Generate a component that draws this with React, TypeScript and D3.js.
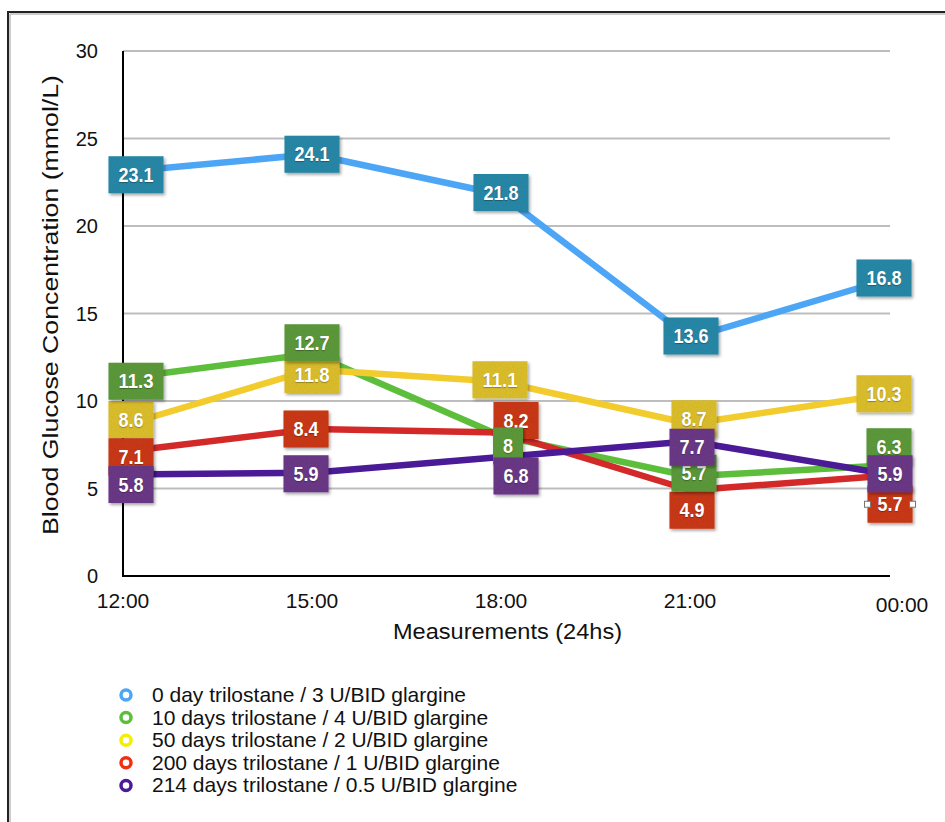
import * as d3 from "d3";

const W = 945, H = 822;
const X0 = 123, X1 = 879, AXIS_END = 890;
const Y_TOP = 51, Y_BOT = 576;

const times = ["12:00", "15:00", "18:00", "21:00", "00:00"];
const yTicks = [0, 5, 10, 15, 20, 25, 30];

const day0 = [23.1, 24.1, 21.8, 13.6, 16.8];
const day10 = [11.3, 12.7, 8, 5.7, 6.3];
const day50 = [8.6, 11.8, 11.1, 8.7, 10.3];
const day200 = [7.1, 8.4, 8.2, 4.9, 5.7];
const day214 = [5.8, 5.9, 6.8, 7.7, 5.9];

const seriesNames = [
  "0 day trilostane / 3 U/BID glargine",
  "10 days trilostane / 4 U/BID glargine",
  "50 days trilostane / 2 U/BID glargine",
  "200 days trilostane / 1 U/BID glargine",
  "214 days trilostane / 0.5 U/BID glargine",
];

// label box nudges (px) so the boxes don't sit on each other
const nudgeDx = [
  [13, 0, 0, 1, 5],
  [13, 0, 7, 4, 10],
  [8, 0, -1, 4, 5],
  [8, -6, 15, 2, 11],
  [8, -6, 15, 2, 11],
];
const nudgeDy = [
  [3, 0, -2, -2, -4],
  [3, -11, 10, -3, -19],
  [-6, 5, -2, -5, -2],
  [5, 0, -12, 20, 28],
  [10, 1, 19, 6, 1],
];

const lineColors = ["#4DA6F5", "#5DBE3C", "#F2CB2C", "#D32929", "#4B1A96"];
const boxColors = ["#2A8BAB", "#5E9C3C", "#E0C22D", "#CE3A1C", "#6D3A8A"];
const legendColors = ["#4DA6F5", "#5DBE3C", "#F5EE00", "#F03010", "#4B1A96"];

const allSeries = [day0, day10, day50, day200, day214];
// drawing order of label boxes: blue, yellow, red, green, purple
const boxOrder = [0, 2, 3, 1, 4];

const FONT = "'Liberation Sans', Arial, Helvetica, sans-serif";

function textW(s: string) {
  let w = 0;
  for (const c of s) w += c === "." ? 5 : 10;
  return w;
}

export default function App() {
  const x = d3.scalePoint<string>().domain(times).range([X0, X1]);
  const y = d3.scaleLinear().domain([0, 30]).range([Y_BOT, Y_TOP]);
  const line = d3
    .line<number>()
    .x((_, i) => x(times[i]) as number)
    .y((v) => y(v));

  return (
    <div style={{ position: "absolute", left: 0, top: 0 }}>
      <svg width={W} height={H} style={{ display: "block", background: "#fff", fontFamily: FONT }}>
        <defs>
          <filter id="tex" x="-10%" y="-10%" width="130%" height="140%">
            <feTurbulence type="fractalNoise" baseFrequency="1.2" numOctaves="2" seed="3" result="n" />
            <feColorMatrix in="n" type="matrix"
              values="0 0 0 0 0  0 0 0 0 0  0 0 0 0 0  0 0 0 0.18 0" result="dark" />
            <feComposite in="dark" in2="SourceGraphic" operator="in" result="noise" />
            <feMerge result="tx">
              <feMergeNode in="SourceGraphic" />
              <feMergeNode in="noise" />
            </feMerge>
            <feDropShadow dx="1.5" dy="2" stdDeviation="1.5" floodOpacity="0.35" />
          </filter>
        </defs>

        {/* frame */}
        <line x1={10} y1={14} x2={W} y2={14} stroke="#ccc" strokeWidth={2} />
        <line x1={10} y1={14} x2={10} y2={H} stroke="#ccc" strokeWidth={2} />
        <line x1={8} y1={12} x2={W} y2={12} stroke="#222" strokeWidth={2} />
        <line x1={8} y1={11} x2={8} y2={H} stroke="#222" strokeWidth={2} />

        {/* grid */}
        {yTicks.filter((t) => t > 0).map((t) => (
          <line key={t} x1={X0} x2={AXIS_END} y1={y(t)} y2={y(t)} stroke="#bdbdbd" strokeWidth={2} />
        ))}
        {yTicks.map((t) => (
          <text key={t} x={98} y={y(t) + 7} textAnchor="end" fontSize={20} fill="#111">{t}</text>
        ))}

        {/* axes */}
        <line x1={X0} x2={X0} y1={Y_TOP} y2={Y_BOT + 1} stroke="#000" strokeWidth={2} />
        <line x1={X0 - 1} x2={AXIS_END} y1={Y_BOT} y2={Y_BOT} stroke="#000" strokeWidth={2} />

        {times.map((t, i) => (
          <text key={t} x={i === times.length - 1 ? 902 : (x(t) as number)} y={i === times.length - 1 ? 612 : 608}
            textAnchor="middle" fontSize={21} fill="#111">{t}</text>
        ))}

        <text x={393} y={639} fontSize={22} fill="#111" textLength={229} lengthAdjust="spacingAndGlyphs">
          Measurements (24hs)
        </text>
        <text transform={`translate(58,535) rotate(-90)`} fontSize={22} fill="#111" textLength={460} lengthAdjust="spacingAndGlyphs">
          Blood Glucose Concentration (mmol/L)
        </text>

        {/* lines */}
        {allSeries.map((s, k) => (
          <path key={k} d={line(s) ?? ""} fill="none" stroke={lineColors[k]} strokeWidth={6.5} strokeLinejoin="round" />
        ))}

        {/* value boxes */}
        {boxOrder.map((k) => (
          <g key={k}>
            {allSeries[k].map((v, i) => {
              const label = String(v);
              const tw = textW(label);
              const bw = tw + 20;
              const bh = 37;
              const cx = (x(times[i]) as number) + nudgeDx[k][i];
              const cy = y(v) + nudgeDy[k][i];
              return (
                <g key={i}>
                  <rect x={cx - bw / 2} y={cy - bh / 2} width={bw} height={bh} fill={boxColors[k]} filter="url(#tex)" />
                  <text x={cx - tw / 2} y={cy} dy="0.36em" fontSize={19.5} fontWeight="bold" fill="#fff"
                    textLength={tw} lengthAdjust="spacingAndGlyphs"
                    style={{ textShadow: "0 1px 1px rgba(0,0,0,0.3)" }}>{label}</text>
                </g>
              );
            })}
          </g>
        ))}

        {/* selection handles on the last red box */}
        {(() => {
          const cx = (x(times[4]) as number) + nudgeDx[3][4];
          const cy = y(day200[4]) + nudgeDy[3][4];
          const bw = textW(String(day200[4])) + 20;
          return [-1, 1].map((s) => (
            <rect key={s} x={cx + (s * bw) / 2 - 3} y={cy - 3} width={6} height={6} fill="#fff" stroke="#777" strokeWidth={1} />
          ));
        })()}

        {/* legend */}
        {seriesNames.map((n, k) => (
          <g key={n} transform={`translate(126,${695 + k * 22.6})`}>
            <circle r={5} fill="#fff" stroke={legendColors[k]} strokeWidth={3.5} />
            <text x={26} y={7} fontSize={21} fill="#111">{n}</text>
          </g>
        ))}
      </svg>
    </div>
  );
}
